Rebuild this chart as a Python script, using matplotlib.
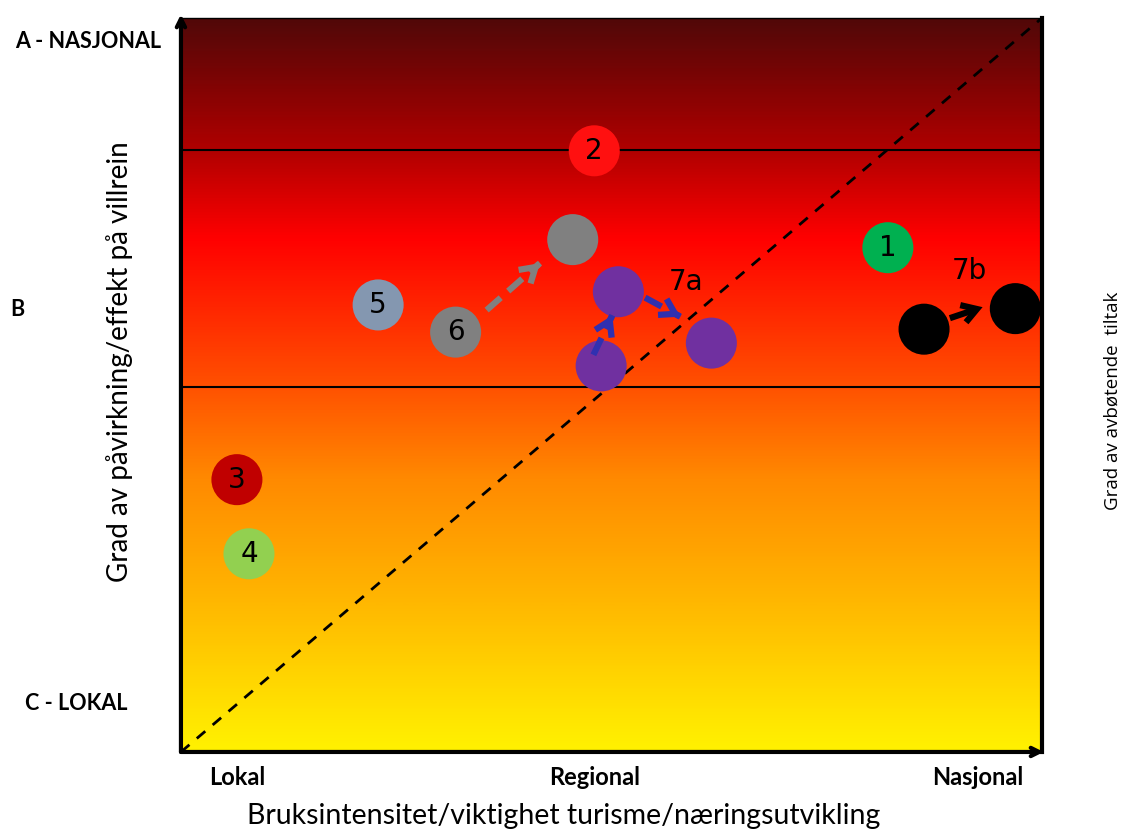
import numpy as np
import matplotlib.pyplot as plt
from matplotlib.colors import LinearSegmentedColormap

# Points (x = bruksintensitet, y = grad av påvirkning), scale 0-10
labels = ["2", "", "1", "5", "6", "", "", "", "", "", "3", "4"]
xs = [4.80, 4.55, 8.21, 2.29, 3.19, 5.08, 4.88, 6.16, 8.63, 9.69, 0.65, 0.79]
ys = [8.19, 6.98, 6.87, 6.09, 5.72, 6.27, 5.26, 5.57, 5.76, 6.04, 3.71, 2.70]
colors = ["#ff1010", "#808080", "#00b050", "#8497b0", "#808080", "#7030a0",
          "#7030a0", "#7030a0", "#000000", "#000000", "#c00000", "#92d050"]

# Arrows: (x0, y0, x1, y1, color, dashed)
arrows = [
    (3.55, 6.02, 4.17, 6.66, "#808080", True),
    (4.79, 5.41, 5.01, 5.95, "#3030b0", True),
    (5.39, 6.19, 5.80, 5.93, "#3030b0", True),
    (8.93, 5.91, 9.31, 6.06, "#000000", False),
]

group_labels = ["7a", "7b"]
group_x = [5.87, 9.16]
group_y = [6.40, 6.55]

band_lines = [8.20, 4.97]
ytick_text = ["C - LOKAL", "B", "A - NASJONAL"]
xtick_text = ["Lokal", "Regional", "Nasjonal"]
xtick_pos = [0.65, 4.8, 9.25]

# gradient stops (position from bottom, colour)
grad_stops = [(0.0, "#fff200"), (0.2, "#ffb800"), (0.37, "#ff8a00"),
              (0.5, "#ff5000"), (0.7, "#ff0000"), (0.82, "#b00000"),
              (1.0, "#500808")]

fig = plt.figure(figsize=(11.26, 8.31), dpi=100)
ax = fig.add_axes([0.1607, 0.0951, 0.7647, 0.8833])
ax.set_xlim(0, 10)
ax.set_ylim(0, 10)

cmap = LinearSegmentedColormap.from_list("band", grad_stops)
grad = np.linspace(0, 1, 512).reshape(-1, 1)
ax.imshow(grad, extent=[0, 10, 0, 10], origin="lower", aspect="auto", cmap=cmap, zorder=0)

for yl in band_lines:
    ax.axhline(yl, color="black", lw=1.5, zorder=1)

ax.plot([0, 10], [0, 10], color="black", lw=2, dashes=(4, 3.5), zorder=2)

ax.scatter(xs, ys, s=1350, c=colors, edgecolors="none", zorder=4)

# arrows: dashed shaft drawn as a line, solid head drawn separately
for x0, y0, x1, y1, c, dashed in arrows:
    if dashed:
        ax.plot([x0, x1], [y0, y1], color=c, lw=4.5, dashes=(3, 1.6),
                solid_capstyle="butt", dash_capstyle="butt", zorder=4.5)
        xt, yt = x1 - 0.02 * (x1 - x0), y1 - 0.02 * (y1 - y0)
    else:
        xt, yt = x0, y0
    ax.annotate("", xy=(x1, y1), xytext=(xt, yt),
                arrowprops=dict(arrowstyle="->,head_length=1.05,head_width=0.65", color=c, lw=4.5,
                                joinstyle="miter", capstyle="butt",
                                shrinkA=0, shrinkB=0), zorder=4.5)

for lab, x, y in zip(labels, xs, ys):
    if lab:
        ax.text(x, y, lab, ha="center", va="center", fontsize=20, color="black", zorder=5)
for lab, x, y in zip(group_labels, group_x, group_y):
    ax.text(x, y, lab, ha="center", va="center", fontsize=20, color="black", zorder=5)

# spines/axes arrows
for s in ax.spines.values():
    s.set_visible(False)
ax.plot([0, 10], [10, 10], color="black", lw=1, zorder=6, clip_on=False)
ax.plot([10, 10], [0, 10], color="black", lw=3, zorder=6, clip_on=False)
ax.annotate("", xy=(0, 10.05), xytext=(0, 0),
            arrowprops=dict(arrowstyle="->,head_length=0.6,head_width=0.3", color="black", lw=3,
                            shrinkA=0, shrinkB=0), annotation_clip=False, zorder=6)
ax.annotate("", xy=(10.02, 0), xytext=(0, 0),
            arrowprops=dict(arrowstyle="->,head_length=0.6,head_width=0.3", color="black", lw=3,
                            shrinkA=0, shrinkB=0), annotation_clip=False, zorder=6)

ax.set_xticks([])
ax.set_yticks([])

# tick-like labels
fig.text(88 / 1126, 1 - 42 / 831, ytick_text[2], ha="center", va="center",
         fontsize=15.5, fontweight="bold", family="Lato")
fig.text(17 / 1126, 1 - 310 / 831, ytick_text[1], ha="center", va="center",
         fontsize=15.5, fontweight="bold", family="Lato")
fig.text(76 / 1126, 1 - 703 / 831, ytick_text[0], ha="center", va="center",
         fontsize=15.5, fontweight="bold", family="Lato")
for t, xp in zip(xtick_text, xtick_pos):
    ax.text(xp, -0.35, t, ha="center", va="center", fontsize=17, fontweight="bold",
            family="Lato", transform=ax.transData, clip_on=False)

fig.text(564 / 1126, 1 - 816 / 831, "Bruksintensitet/viktighet turisme/næringsutvikling",
         ha="center", va="center", fontsize=20.5, family="Lato")
fig.text(120 / 1126, 1 - 362 / 831, "Grad av påvirkning/effekt på villrein",
         ha="center", va="center", fontsize=20, family="Lato", rotation=90)
fig.text(1113 / 1126, 1 - 401 / 831, "Grad av avbøtende  tiltak",
         ha="center", va="center", fontsize=13.5, family="Open Sans", rotation=90)

fig.savefig("out.png", dpi=100)
